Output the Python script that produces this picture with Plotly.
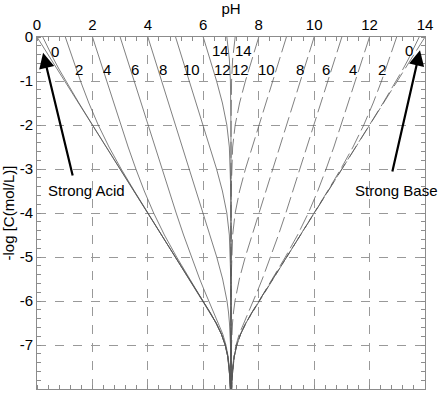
import plotly.graph_objects as go

# ---- data: log10 concentration (y) and pH values ----
y_strong = [0, -5, -5.5, -5.75, -6, -6.25, -6.5, -6.75, -7, -7.25, -7.5, -7.75, -8]
ph_strong_acid = [0, 5.0, 5.4996, 5.7487, 5.9957, 6.2369, 6.462, 6.6523, 6.791, 6.8795, 6.9317, 6.9614, 6.9783]
ph_strong_base = [14, 9.0, 8.5004, 8.2513, 8.0043, 7.7631, 7.538, 7.3477, 7.209, 7.1205, 7.0683, 7.0386, 7.0217]

y_pk0 = [0, -0.25, -0.5, -0.75, -1, -1.5, -2, -2.5, -3, -5, -5.5, -5.75, -6, -6.25, -6.5, -6.75, -7, -7.25, -7.5, -7.75, -8]
acid_pk0 = [0.209, 0.3965, 0.5978, 0.8122, 1.0381, 1.5131, 2.0043, 2.5014, 3.0004, 5.0, 5.4996, 5.7487, 5.9957, 6.2369, 6.462, 6.6523, 6.791, 6.8795, 6.9317, 6.9614, 6.9783]
base_pk0 = [13.791, 13.6035, 13.4022, 13.1878, 12.9619, 12.4869, 11.9957, 11.4986, 10.9996, 9.0, 8.5004, 8.2513, 8.0043, 7.7631, 7.538, 7.3477, 7.209, 7.1205, 7.0683, 7.0386, 7.0217]

y_pk2 = [0, -0.5, -1, -1.5, -2, -2.5, -3, -3.5, -4, -4.5, -5, -5.5, -5.75, -6, -6.25, -6.5, -6.75, -7, -7.25, -7.5, -7.75, -8]
acid_pk2 = [1.0217, 1.2886, 1.5683, 1.8706, 2.209, 2.5978, 3.0381, 3.5131, 4.0043, 4.5014, 5.0004, 5.4997, 5.749, 5.996, 6.237, 6.462, 6.652, 6.791, 6.880, 6.932, 6.961, 6.978]
base_pk2 = [12.9783, 12.7114, 12.4317, 12.1294, 11.791, 11.4022, 10.9619, 10.4869, 9.9957, 9.4986, 8.9996, 8.5003, 8.251, 8.004, 7.763, 7.538, 7.348, 7.209, 7.12, 7.068, 7.039, 7.022]

y_pk4 = [0, -0.5, -1, -1.5, -2, -2.5, -3, -3.5, -4, -4.5, -5, -5.5, -5.75, -6, -6.25, -6.5, -6.75, -7, -7.25, -7.5, -7.75, -8]
acid_pk4 = [2.0022, 2.2539, 2.5069, 2.7622, 3.0217, 3.2886, 3.5683, 3.8706, 4.209, 4.5978, 5.0381, 5.5126, 5.7561, 6.0, 6.2393, 6.4632, 6.6529, 6.7913, 6.8796, 6.9318, 6.9614, 6.9783]
base_pk4 = [11.9978, 11.7461, 11.4931, 11.2378, 10.9783, 10.7114, 10.4317, 10.1294, 9.791, 9.4022, 8.9619, 8.4874, 8.2439, 8.0, 7.7607, 7.5368, 7.3471, 7.2087, 7.1204, 7.0682, 7.0386, 7.0217]

y_pk6 = [0, -1, -2, -3, -4, -4.5, -5, -5.5, -5.75, -6, -6.25, -6.5, -6.75, -7, -7.25, -7.5, -7.75, -8]
acid_pk6 = [3.0002, 3.5007, 4.0022, 4.5069, 5.0217, 5.2886, 5.568, 5.869, 6.031, 6.201, 6.377, 6.55, 6.702, 6.817, 6.893, 6.9386, 6.9652, 6.9803]
base_pk6 = [10.9998, 10.4993, 9.9978, 9.4931, 8.9783, 8.7114, 8.432, 8.131, 7.969, 7.799, 7.623, 7.45, 7.298, 7.183, 7.107, 7.0614, 7.0348, 7.0197]

y_pk8 = [0, -1, -2, -3, -3.5, -4, -4.5, -5, -5.5, -5.75, -6, -6.25, -6.5, -7, -7.5, -8]
acid_pk8 = [4.0, 4.5, 5.0, 5.4998, 5.7505, 6.0, 6.2469, 6.4852, 6.6983, 6.7862, 6.8569, 6.909, 6.9446, 6.981, 6.9938, 6.998]
base_pk8 = [10.0, 9.5, 9.0, 8.5002, 8.2495, 8.0, 7.7531, 7.5148, 7.3017, 7.2138, 7.1431, 7.091, 7.0554, 7.019, 7.0062, 7.002]

y_pk10 = [0, -1, -1.5, -2, -2.5, -3, -3.5, -4, -4.5, -5, -5.5, -6, -7, -8]
acid_pk10 = [5.0, 5.4998, 5.7493, 5.9978, 6.2433, 6.4793, 6.6903, 6.8495, 6.9403, 6.9793, 6.9932, 6.9978, 6.9998, 7.0]
base_pk10 = [9.0, 8.5002, 8.2507, 8.0022, 7.7567, 7.5207, 7.3097, 7.1505, 7.0597, 7.0207, 7.0068, 7.0022, 7.0002, 7.0]

y_pk12 = [0, -0.5, -1, -1.5, -2, -2.5, -3, -3.5, -4, -5, -8]
acid_pk12 = [5.9978, 6.2433, 6.4793, 6.6903, 6.8495, 6.9403, 6.9793, 6.9932, 6.9978, 6.9998, 7.0]
base_pk12 = [8.0022, 7.7567, 7.5207, 7.3097, 7.1505, 7.0597, 7.0207, 7.0068, 7.0022, 7.0002, 7.0]

y_pk14 = [0, -0.5, -1, -1.5, -2, -3, -8]
acid_pk14 = [6.8495, 6.9403, 6.9793, 6.9932, 6.9978, 6.9998, 7.0]
base_pk14 = [7.1505, 7.0597, 7.0207, 7.0068, 7.0022, 7.0002, 7.0]

x_ticks = [0, 2, 4, 6, 8, 10, 12, 14]
y_ticks = [0, -1, -2, -3, -4, -5, -6, -7, -8]
acid_labels = ["0", "2", "4", "6", "8", "10", "12", "14"]
base_labels = ["0", "2", "4", "6", "8", "10", "12", "14"]

# ---- figure ----
FONT = "Liberation Sans, Arial, sans-serif"
FS = 15
solid = dict(color="#555555", width=0.75)
dashed = dict(color="#555555", width=0.75, dash="16px,5px")

fig = go.Figure()
fig.add_trace(go.Scatter(x=ph_strong_acid, y=y_strong, mode="lines", line=solid))
fig.add_trace(go.Scatter(x=ph_strong_base, y=y_strong, mode="lines", line=dashed))
acid_sets = [(y_pk0, acid_pk0), (y_pk2, acid_pk2), (y_pk4, acid_pk4), (y_pk6, acid_pk6),
             (y_pk8, acid_pk8), (y_pk10, acid_pk10), (y_pk12, acid_pk12), (y_pk14, acid_pk14)]
base_sets = [(y_pk0, base_pk0), (y_pk2, base_pk2), (y_pk4, base_pk4), (y_pk6, base_pk6),
             (y_pk8, base_pk8), (y_pk10, base_pk10), (y_pk12, base_pk12), (y_pk14, base_pk14)]
for yy, xx in acid_sets:
    fig.add_trace(go.Scatter(x=xx, y=yy, mode="lines", line=solid))
for yy, xx in base_sets:
    fig.add_trace(go.Scatter(x=xx, y=yy, mode="lines", line=dashed))

# curve labels (positions in data units)
acid_label_pos = [(0.65, -0.34), (1.52, -0.73), (2.52, -0.73), (3.54, -0.73),
                  (4.55, -0.73), (5.56, -0.73), (6.70, -0.73), (6.61, -0.30)]
base_label_pos = [(13.44, -0.30), (12.44, -0.73), (11.41, -0.73), (10.43, -0.73),
                  (9.49, -0.73), (8.27, -0.73), (7.36, -0.73), (7.45, -0.30)]
txtfont = dict(size=FS, color="black", family=FONT)
ann = []
for t, (px, py) in zip(acid_labels, acid_label_pos):
    ann.append(dict(x=px, y=py, text=t, showarrow=False, font=txtfont))
for t, (px, py) in zip(base_labels, base_label_pos):
    ann.append(dict(x=px, y=py, text=t, showarrow=False, font=txtfont))

arrow_common = dict(showarrow=True, arrowhead=2, arrowsize=1.4, arrowwidth=2.2, arrowcolor="black",
                    axref="x", ayref="y", text="")
ann.append(dict(x=0.22, y=-0.36, ax=1.30, ay=-3.18, **arrow_common))
ann.append(dict(x=13.82, y=-0.30, ax=12.81, ay=-3.09, **arrow_common))
ann.append(dict(x=1.80, y=-3.48, text="Strong Acid", showarrow=False, font=txtfont))
ann.append(dict(x=12.96, y=-3.48, text="Strong Base", showarrow=False, font=txtfont))

axis_common = dict(showgrid=True, gridcolor="#999999", griddash="dash", gridwidth=1,
                   showline=True, linecolor="#8c8c8c", linewidth=1, mirror="allticks",
                   ticks="", zeroline=False, tickfont=txtfont)

fig.update_layout(
    width=439, height=396,
    margin=dict(l=37, r=14, t=37, b=7),
    paper_bgcolor="white", plot_bgcolor="white",
    showlegend=False,
    annotations=ann,
    font=dict(family=FONT, size=FS, color="black"),
    xaxis=dict(range=[0, 14], side="top", tickvals=x_ticks, ticktext=[str(v) for v in x_ticks],
               minor=dict(dtick=0.4, tick0=0, ticks="inside", ticklen=4, tickcolor="#8c8c8c", showgrid=False),
               title=dict(text="pH", standoff=4, font=txtfont),
               automargin=False, **axis_common),
    yaxis=dict(range=[-8, 0], tickvals=y_ticks, ticktext=[str(v) for v in y_ticks],
               minor=dict(dtick=0.2, tick0=0, ticks="inside", ticklen=4, tickcolor="#8c8c8c", showgrid=False),
               title=dict(text="-log [C(mol/L)]", standoff=5, font=txtfont),
               automargin=False, **axis_common),
)

fig.write_html("out.html", config={"displayModeBar": False},
               post_script="document.body.style.margin='0px';")
